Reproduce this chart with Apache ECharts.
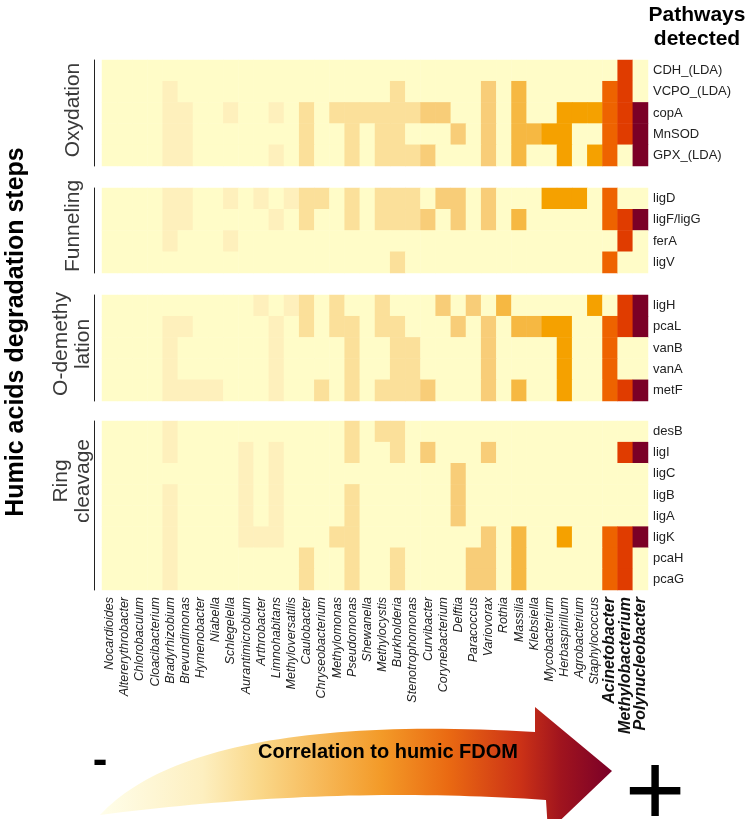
<!DOCTYPE html>
<html>
<head>
<meta charset="utf-8">
<script src="https://cdn.jsdelivr.net/npm/echarts@6/dist/echarts.min.js"></script>
<style>
  html, body { margin: 0; padding: 0; background: #fff; }
  #chart { width: 750px; height: 819px; }
</style>
</head>
<body>
<div id="chart"></div>
<script>
// genera ordered by correlation to humic FDOM (low -> high)
const genera = [
  'Nocardioides', 'Altererythrobacter', 'Chlorobaculum', 'Cloacibacterium', 'Bradyrhizobium',
  'Brevundimonas', 'Hymenobacter', 'Niabella', 'Schlegelella', 'Aurantimicrobium',
  'Arthrobacter', 'Limnohabitans', 'Methyloversatilis', 'Caulobacter', 'Chryseobacterium',
  'Methylomonas', 'Pseudomonas', 'Shewanella', 'Methylocystis', 'Burkholderia',
  'Stenotrophomonas', 'Curvibacter', 'Corynebacterium', 'Delftia', 'Paracoccus',
  'Variovorax', 'Rothia', 'Massilia', 'Klebsiella', 'Mycobacterium',
  'Herbaspirillum', 'Agrobacterium', 'Staphylococcus', 'Acinetobacter', 'Methylobacterium',
  'Polynucleobacter'
];
// colour class of each genus (correlation strength)
const genusLevel = [
  1, 1, 1, 1, 1, 1, 1, 1, 1, 1, 1, 1, 1,
  2, 2, 2, 2, 2, 2, 2, 2,
  3, 3, 3, 3, 3,
  4, 4, 4,
  5, 5, 5, 5,
  6, 7, 8
];
const boldGenera = ['Acinetobacter', 'Methylobacterium', 'Polynucleobacter'];

const stepNames = ['Oxydation', 'Funneling', 'O-demethy\nlation', 'Ring\ncleavage'];

// genes of each step, and the genus indices in which the gene was detected
const oxydationGenes = ['CDH_(LDA)', 'VCPO_(LDA)', 'copA', 'MnSOD', 'GPX_(LDA)'];
const oxydationHits = [
  [34],
  [4, 19, 25, 27, 33, 34],
  [4, 5, 8, 11, 13, 15, 16, 17, 18, 19, 20, 21, 22, 25, 27, 30, 31, 32, 33, 34, 35],
  [4, 5, 13, 16, 18, 19, 23, 25, 27, 28, 29, 30, 33, 34, 35],
  [4, 5, 11, 13, 16, 18, 19, 20, 21, 25, 27, 30, 32, 33, 35]
];

const funnelingGenes = ['ligD', 'ligF/ligG', 'ferA', 'ligV'];
const funnelingHits = [
  [4, 5, 8, 10, 12, 13, 14, 16, 18, 19, 20, 22, 23, 25, 29, 30, 31, 33],
  [4, 5, 11, 13, 16, 18, 19, 20, 21, 23, 25, 27, 33, 34, 35],
  [4, 8, 34],
  [19, 33]
];

const demethylationGenes = ['ligH', 'pcaL', 'vanB', 'vanA', 'metF'];
const demethylationHits = [
  [10, 12, 13, 15, 18, 22, 24, 26, 32, 34, 35],
  [4, 5, 11, 13, 15, 16, 18, 19, 23, 25, 27, 28, 29, 30, 33, 34, 35],
  [4, 11, 16, 19, 20, 25, 30, 33],
  [4, 11, 16, 19, 20, 25, 30, 33],
  [4, 5, 6, 7, 11, 14, 16, 18, 19, 20, 21, 25, 27, 30, 33, 34, 35]
];

const ringGenes = ['desB', 'ligI', 'ligC', 'ligB', 'ligA', 'ligK', 'pcaH', 'pcaG'];
const ringHits = [
  [4, 16, 18, 19],
  [4, 9, 11, 16, 19, 21, 25, 34, 35],
  [9, 11, 23],
  [4, 9, 11, 16, 23],
  [4, 9, 11, 16, 23],
  [4, 9, 10, 11, 15, 16, 25, 27, 30, 33, 34, 35],
  [4, 13, 16, 19, 24, 25, 27, 33, 34],
  [4, 13, 16, 19, 24, 25, 27, 33, 34]
];

const stepGenes = [oxydationGenes, funnelingGenes, demethylationGenes, ringGenes];
const stepHits = [oxydationHits, funnelingHits, demethylationHits, ringHits];

// layout
const panelTop = [60, 188, 295, 421];
const panelHeight = [106, 85, 106, 169];
const stepLabelPos = [[73, 110], [73, 226], [72, 344], [72, 481]];
const levelColors = ['#FFFCC8', '#FEF0BC', '#FBE09A', '#F8CD78', '#F6B842', '#F5A100', '#EE6300', '#E03C00', '#7B0026'];
const font = '"Liberation Sans", Arial, sans-serif';

const chart = echarts.init(document.getElementById('chart'));

const grid = [];
const xAxis = [];
const yAxis = [];
const series = [];
const graphic = [];

stepGenes.forEach((genes, i) => {
  const last = i === stepGenes.length - 1;
  grid.push({ left: 102, right: 102, top: panelTop[i], height: panelHeight[i] });

  xAxis.push({
    type: 'category',
    gridIndex: i,
    data: genera,
    axisLine: { show: false },
    axisTick: { show: false },
    splitLine: { show: false },
    axisLabel: last ? {
      interval: 0,
      rotate: 90,
      margin: 7,
      fontSize: 12.5,
      fontStyle: 'italic',
      fontFamily: font,
      color: '#222',
      formatter: (v) => boldGenera.includes(v) ? '{b|' + v + '}' : v,
      rich: {
        b: { fontSize: 16, fontWeight: 'bold', fontStyle: 'italic', fontFamily: font, color: '#111' }
      }
    } : { show: false }
  });

  // gene names on the right
  yAxis.push({
    type: 'category',
    gridIndex: i,
    data: genes,
    inverse: true,
    position: 'right',
    axisLine: { show: false },
    axisTick: { show: false },
    splitLine: { show: false },
    axisLabel: { fontSize: 13, color: '#222', margin: 5, fontFamily: font }
  });

  // step bracket line on the left
  yAxis.push({
    type: 'category',
    gridIndex: i,
    data: genes,
    inverse: true,
    position: 'left',
    offset: 8,
    axisLine: { show: true, lineStyle: { color: '#222', width: 1 } },
    axisTick: { show: false },
    axisLabel: { show: false },
    splitLine: { show: false }
  });

  graphic.push({
    type: 'text',
    x: stepLabelPos[i][0],
    y: stepLabelPos[i][1],
    rotation: Math.PI / 2,
    style: {
      text: stepNames[i],
      font: '21px ' + font,
      lineHeight: 22,
      fill: '#3a3a3a',
      textAlign: 'center',
      textVerticalAlign: 'middle'
    }
  });

  const cells = [];
  genes.forEach((g, r) => {
    genera.forEach((name, c) => {
      cells.push([c, r, stepHits[i][r].includes(c) ? genusLevel[c] : 0]);
    });
  });

  series.push({
    type: 'heatmap',
    xAxisIndex: i,
    yAxisIndex: 2 * i,
    data: cells,
    itemStyle: { borderWidth: 0 },
    emphasis: { disabled: true },
    silent: true
  });
});

// curved arrow outline (bezier edges sampled into a polygon)
function bez(p, n) {
  const pts = [];
  for (let k = 0; k <= n; k++) {
    const t = k / n, u = 1 - t;
    if (p.length === 3) {
      pts.push([u * u * p[0][0] + 2 * u * t * p[1][0] + t * t * p[2][0],
                u * u * p[0][1] + 2 * u * t * p[1][1] + t * t * p[2][1]]);
    } else {
      pts.push([u * u * u * p[0][0] + 3 * u * u * t * p[1][0] + 3 * u * t * t * p[2][0] + t * t * t * p[3][0],
                u * u * u * p[0][1] + 3 * u * u * t * p[1][1] + 3 * u * t * t * p[2][1] + t * t * t * p[3][1]]);
    }
  }
  return pts;
}
const arrowPoints = []
  .concat(bez([[100, 815], [160, 750], [300, 718], [535, 732]], 50))
  .concat([[535, 707], [612, 771], [548, 832], [546, 800]])
  .concat(bez([[546, 800], [330, 785], [100, 815]], 40));

const arrowFill = new echarts.graphic.LinearGradient(0, 0, 1, 0, [
  { offset: 0, color: '#FFFEEA' },
  { offset: 0.2, color: '#FDEFC0' },
  { offset: 0.31, color: '#FAD88A' },
  { offset: 0.55, color: '#F39A28' },
  { offset: 0.68, color: '#EA6A12' },
  { offset: 0.82, color: '#CC3216' },
  { offset: 0.9, color: '#A0141E' },
  { offset: 1, color: '#7A0028' }
]);

graphic.push(
  {
    type: 'text',
    x: 16, y: 332,
    rotation: Math.PI / 2,
    style: {
      text: 'Humic acids degradation steps',
      font: 'bold 25px ' + font,
      fill: '#000',
      textAlign: 'center',
      textVerticalAlign: 'middle'
    }
  },
  {
    type: 'text',
    x: 697, y: 27,
    style: {
      text: 'Pathways\ndetected',
      font: 'bold 21px ' + font,
      lineHeight: 24,
      fill: '#000',
      textAlign: 'center',
      textVerticalAlign: 'middle'
    }
  },
  {
    type: 'polygon',
    shape: { points: arrowPoints },
    style: { fill: arrowFill }
  },
  {
    type: 'text',
    x: 388, y: 752,
    style: {
      text: 'Correlation to humic FDOM',
      font: 'bold 20px ' + font,
      fill: '#000',
      textAlign: 'center',
      textVerticalAlign: 'middle'
    }
  },
  {
    type: 'text',
    x: 100, y: 762,
    style: { text: '-', font: 'bold 44px ' + font, fill: '#000', textAlign: 'center', textVerticalAlign: 'middle' }
  },
  {
    type: 'text',
    x: 655, y: 796,
    style: { text: '+', font: '104px ' + font, fill: '#000', textAlign: 'center', textVerticalAlign: 'middle' }
  }
);

const option = {
  animation: false,
  textStyle: { fontFamily: font },
  grid: grid,
  xAxis: xAxis,
  yAxis: yAxis,
  visualMap: {
    type: 'piecewise',
    show: false,
    dimension: 2,
    pieces: levelColors.map((c, k) => ({ value: k, color: c }))
  },
  series: series,
  graphic: graphic
};

chart.setOption(option);
</script>
</body>
</html>
